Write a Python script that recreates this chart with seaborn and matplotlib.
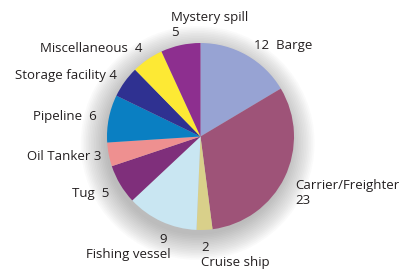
import numpy as np
import matplotlib
matplotlib.use("Agg")
import matplotlib.pyplot as plt
from matplotlib.patches import Circle
import seaborn as sns

# Data
sources = ['Barge', 'Carrier/Freighter', 'Cruise ship', 'Fishing vessel', 'Tug',
           'Oil Tanker', 'Pipeline', 'Storage facility', 'Miscellaneous', 'Mystery spill']
counts = [12, 23, 2, 9, 5, 3, 6, 4, 4, 5]
colors = ['#97a3d3', '#9e5378', '#d9d08a', '#c9e6f2', '#7f2f7b',
          '#ee9090', '#0a7fc2', '#2f3191', '#fde934', '#8d2f8f']

# label texts and where they sit (pixel coords from top-left, alignment)
label_text = ['12  Barge', 'Carrier/Freighter\n23', '2\nCruise ship', '9 \nFishing vessel', 'Tug  5',
              'Oil Tanker 3', 'Pipeline  6', 'Storage facility 4', 'Miscellaneous  4', 'Mystery spill\n5']
label_pos = [(254, 45, 'left', 'left'), (295, 193, 'left', 'left'), (201, 255, 'left', 'left'),
             (171, 247, 'right', 'right'), (109, 193, 'right', 'left'), (101, 157, 'right', 'left'),
             (97, 117, 'right', 'left'), (117, 75, 'right', 'left'), (142, 48, 'right', 'left'),
             (171, 25, 'left', 'left')]

sns.set_theme(style='white')
plt.rcParams['font.family'] = ['Open Sans', 'DejaVu Sans']

W, H = 400, 271
fig = plt.figure(figsize=(W / 100, H / 100), dpi=100)
cx, cy, r = 200.5, 136.5, 93.5
ext = 1.35
ax = fig.add_axes([(cx - r * ext) / W, (H - cy - r * ext) / H, 2 * r * ext / W, 2 * r * ext / H])

ax.pie(counts, colors=colors, startangle=90, counterclock=False, radius=1,
       wedgeprops=dict(linewidth=0, zorder=5), frame=True)

# soft drop shadow from stacked translucent discs
for k in range(16):
    ax.add_patch(Circle((-0.03, -0.07), 0.98 + 0.018 * k, facecolor='#555555',
                        edgecolor='none', alpha=0.028, zorder=1))

ax.set_xlim(-ext, ext)
ax.set_ylim(-ext, ext)
ax.set_aspect('equal')
ax.axis('off')

for txt, (px, py, ha, ma) in zip(label_text, label_pos):
    fig.text(px / W, 1 - py / H, txt, ha=ha, va='center', fontsize=9.5,
             color='#231f20', linespacing=1.2, multialignment=ma)

fig.savefig('out.png', dpi=100)
